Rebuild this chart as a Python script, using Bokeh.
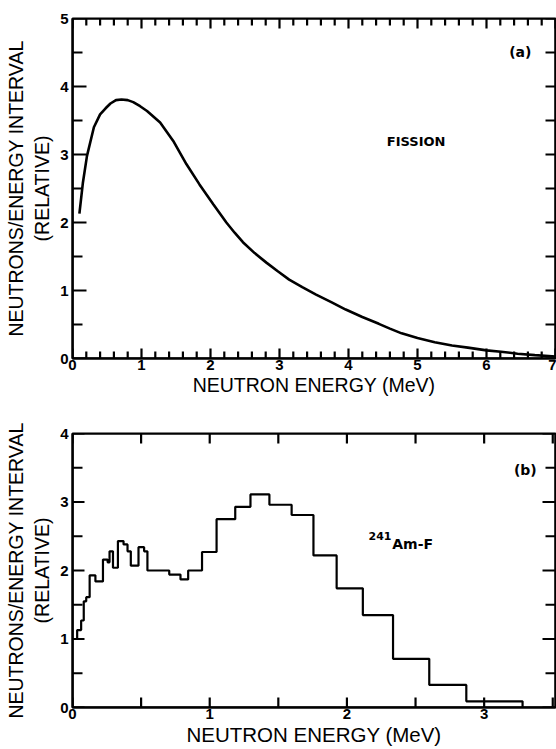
from bokeh.plotting import figure
from bokeh.models import Range1d, FixedTicker
from bokeh.core.properties import value
from bokeh.layouts import column
from bokeh.embed import file_html
from bokeh.resources import INLINE

# ---- data ----
fission_energy = [0.10, 0.15, 0.21, 0.31, 0.40, 0.48, 0.55, 0.63, 0.71, 0.80, 0.88, 0.98,
                  1.08, 1.27, 1.46, 1.65, 1.84, 2.04, 2.23, 2.35, 2.47, 2.64, 2.81, 2.98,
                  3.14, 3.33, 3.53, 3.75, 3.96, 4.20, 4.44, 4.60, 4.77, 5.00, 5.25, 5.50,
                  5.73, 6.00, 6.21, 6.45, 6.70, 7.00]
fission_value = [2.13, 2.58, 2.98, 3.40, 3.59, 3.68, 3.75, 3.80, 3.81, 3.80, 3.77, 3.71,
                 3.64, 3.47, 3.20, 2.86, 2.56, 2.27, 2.00, 1.85, 1.71, 1.55, 1.41, 1.28,
                 1.16, 1.05, 0.94, 0.83, 0.72, 0.61, 0.51, 0.44, 0.37, 0.30, 0.24, 0.19,
                 0.16, 0.12, 0.10, 0.07, 0.05, 0.03]

am_edges = [0.015, 0.034, 0.063, 0.082, 0.10, 0.125, 0.167, 0.222, 0.256, 0.27, 0.295,
            0.331, 0.372, 0.401, 0.425, 0.481, 0.522, 0.546, 0.705, 0.787, 0.843, 0.944,
            1.05, 1.186, 1.297, 1.435, 1.597, 1.756, 1.925, 2.116, 2.336, 2.60, 2.87, 3.28]
am_values = [1.00, 1.13, 1.27, 1.55, 1.61, 1.93, 1.84, 2.16, 2.12, 2.28, 2.04,
             2.43, 2.38, 2.28, 2.07, 2.34, 2.28, 2.00, 1.94, 1.87, 2.00,
             2.27, 2.75, 2.93, 3.11, 2.96, 2.81, 2.22, 1.74, 1.35, 0.71, 0.33, 0.09]

top_major = [0, 1, 2, 3, 4, 5, 6, 7]
top_minor = [0.2, 0.4, 0.6, 0.8, 1.2, 1.4, 1.6, 1.8, 2.2, 2.4, 2.6, 2.8, 3.2, 3.4, 3.6,
             3.8, 4.2, 4.4, 4.6, 4.8, 5.2, 5.4, 5.6, 5.8, 6.2, 6.4, 6.6, 6.8]
top_y_major = [0, 1, 2, 3, 4, 5]
top_y_minor = [0.5, 1.5, 2.5, 3.5, 4.5]
bot_major = [0, 1, 2, 3]
bot_minor = [0.5, 1.5, 2.5, 3.5]
bot_y_major = [0, 1, 2, 3, 4]
bot_y_minor = [0.5, 1.5, 2.5, 3.5]

FONT = "Liberation Sans"
BFONT = "DejaVu Sans"
YLABEL = "NEUTRONS/ENERGY INTERVAL\n(RELATIVE)"
XLABEL = "NEUTRON ENERGY (MeV)"

WIDTH, LEFT = 556, 72
TW = 2.2  # tick stroke width


def make_fig(height, top_border, bottom_border, xr, yr, xt, yt, lab_size):
    p = figure(width=WIDTH, height=height, x_range=Range1d(*xr), y_range=Range1d(*yr),
               output_backend="svg", toolbar_location=None,
               min_border_left=LEFT, min_border_right=1,
               min_border_top=top_border, min_border_bottom=bottom_border)
    p.grid.grid_line_color = None
    p.outline_line_color = "black"
    p.outline_line_width = 2

    ax = p.xaxis[0]
    ax.ticker = FixedTicker(ticks=xt, minor_ticks=[])
    ax.axis_line_width = 2
    ax.axis_line_color = "black"
    ax.major_tick_in = 0
    ax.major_tick_out = 0
    ax.minor_tick_in = 0
    ax.minor_tick_out = 0
    ax.major_label_text_font = FONT
    ax.major_label_text_font_style = "bold"
    ax.major_label_text_font_size = "15px"
    ax.major_label_text_color = "black"
    ax.major_label_standoff = 1
    ax.axis_label = XLABEL
    ax.axis_label_text_font = FONT
    ax.axis_label_text_font_style = "normal"
    ax.axis_label_text_font_size = lab_size
    ax.axis_label_text_color = "black"
    ax.axis_label_standoff = 1

    ay = p.yaxis[0]
    ay.ticker = FixedTicker(ticks=yt, minor_ticks=[])
    ay.axis_line_width = 2
    ay.axis_line_color = "black"
    ay.major_tick_in = 0
    ay.major_tick_out = 0
    ay.minor_tick_in = 0
    ay.minor_tick_out = 0
    ay.major_label_text_font = FONT
    ay.major_label_text_font_style = "bold"
    ay.major_label_text_font_size = "15px"
    ay.major_label_text_color = "black"
    ay.major_label_standoff = 4
    ay.axis_label = YLABEL
    ay.axis_label_text_font = FONT
    ay.axis_label_text_font_style = "normal"
    ay.axis_label_text_font_size = "19.5px"
    ay.axis_label_text_color = "black"
    ay.axis_label_standoff = 4
    return p


def comb(p, groups, edge, inward, horizontal_edge):
    """one polyline running along a frame edge with an inward spike at every tick."""
    marks = sorted((t, d) for ticks, d in groups for t in ticks)
    xs, ys = [], []
    for t, d in marks:
        if horizontal_edge:
            xs += [t, t, t]
            ys += [edge, edge + inward * d, edge]
        else:
            xs += [edge, edge + inward * d, edge]
            ys += [t, t, t]
    p.line(xs, ys, line_color="black", line_width=TW, line_join="bevel")


def px_to_data(rng, frame_px, px):
    return (rng[1] - rng[0]) * px / frame_px


def note(p, x, y, text, size, align="center"):
    p.text(x=[x], y=[y], text=[text], text_font=value(BFONT), text_font_style="bold",
           text_font_size=size, text_align=align, text_baseline="middle",
           text_color="black")


# ---- panel (a) ----
xa, ya = (0, 7), (0, 5)
ha, ta, ba = 400, 18, 42
pa = make_fig(ha, ta, ba, xa, ya, top_major, top_y_major, "19.5px")
fa_w, fa_h = WIDTH - LEFT - 1, ha - ta - ba
xg = [(top_major, px_to_data(ya, fa_h, 10)), (top_minor, px_to_data(ya, fa_h, 7))]
comb(pa, xg, ya[0], 1, True)
comb(pa, xg, ya[1], -1, True)
comb(pa, [(top_y_major, px_to_data(xa, fa_w, 14)), (top_y_minor, px_to_data(xa, fa_w, 10))],
     xa[0], 1, False)
comb(pa, [(top_y_major + top_y_minor, px_to_data(xa, fa_w, 10))], xa[1], -1, False)
pa.line(fission_energy, fission_value, line_color="black", line_width=2.6)
note(pa, 4.98, 3.19, "FISSION", "13px")
note(pa, 6.49, 4.51, "(a)", "14px")

# ---- panel (b) ----
xb, yb = (0, 3.52), (0, 4)
hb, tb, bb = 349, 33, 42
pb = make_fig(hb, tb, bb, xb, yb, bot_major, bot_y_major, "20.5px")
fb_w, fb_h = WIDTH - LEFT - 1, hb - tb - bb
xg = [(bot_major + bot_minor, px_to_data(yb, fb_h, 10))]
comb(pb, xg, yb[0], 1, True)
comb(pb, xg, yb[1], -1, True)
comb(pb, [(bot_y_major, px_to_data(xb, fb_w, 12)), (bot_y_minor, px_to_data(xb, fb_w, 10))],
     xb[0], 1, False)
comb(pb, [(bot_y_major, px_to_data(xb, fb_w, 13)), (bot_y_minor, px_to_data(xb, fb_w, 10))],
     xb[1], -1, False)
step_y = am_values + [0.0]
pb.step(am_edges, step_y, mode="after", line_color="black", line_width=2.2)
note(pb, 3.30, 3.46, "(b)", "14px")
note(pb, 2.157, 2.50, "241", "11px", "left")
note(pb, 2.33, 2.39, "Am-F", "14px", "left")

layout = column(pa, pb, spacing=0)
open("out.html", "w").write(file_html(layout, INLINE))
